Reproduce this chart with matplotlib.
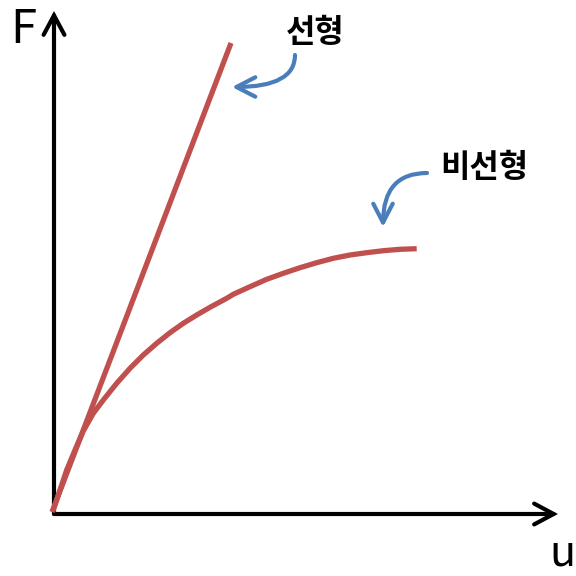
import matplotlib
matplotlib.use("Agg")
import matplotlib.pyplot as plt
from matplotlib.patches import FancyArrowPatch

plt.rcParams['font.family'] = ['Noto Sans CJK KR', 'DejaVu Sans']

# Data (u, F) (origin at the axes corner)
linear_u = [-2, 177]
linear_F = [2, 471]

nonlinear_u = [-1.3, 6, 12.7, 21, 29.3, 39.3, 49.3, 62.7, 76, 89.3, 102.7, 116,
               129.3, 142.7, 156, 172.7, 179.3, 196, 212.7, 229.3, 246, 262.7,
               279.3, 296, 312.7, 329.3, 346, 362.7]
nonlinear_F = [2.3, 24, 44, 64, 83, 100.7, 114, 130.7, 145.7, 159, 170.7, 181.3,
               190.7, 199, 206.7, 215.7, 219.7, 227.3, 234.7, 240.7, 246.3, 251.3,
               255.7, 259, 261.3, 263.3, 264.7, 265.3]

label_linear = "선형"
label_nonlinear = "비선형"
axis_x_label = "u"
axis_y_label = "F"

RED = "#C0504D"
BLUE = "#4A7EBB"

fig = plt.figure(figsize=(5.76, 5.76), dpi=100)
ax = fig.add_axes([0, 0, 1, 1])
ax.set_xlim(-54, 522)
ax.set_ylim(-62, 514)
ax.axis('off')

# axes with open arrowheads
for pA, pB in [((0, 0), (504, 0)), ((0, 0), (0, 503))]:
    ax.add_patch(FancyArrowPatch(pA, pB, arrowstyle="->,head_length=14,head_width=7.5",
                                 mutation_scale=1, lw=3, color="black",
                                 capstyle='round', joinstyle='miter', shrinkA=0, shrinkB=0))

ax.plot(linear_u, linear_F, color=RED, lw=3.8, solid_capstyle='butt')
ax.plot(nonlinear_u, nonlinear_F, color=RED, lw=3.8, solid_capstyle='butt',
        solid_joinstyle='round')

ax.text(-31, 471, axis_y_label, fontsize=34, ha='center', va='baseline', weight='light')
ax.text(508, -52, axis_x_label, fontsize=31, ha='center', va='baseline', weight='light')

ax.text(261, 481, label_linear, fontsize=23, ha='center', va='center', weight='bold')
ax.text(430, 346, label_nonlinear, fontsize=23, ha='center', va='center', weight='bold')

# blue pointer arrows
ax.add_patch(FancyArrowPatch((241, 459), (178, 427),
                             connectionstyle="angle3,angleA=-90,angleB=0",
                             arrowstyle="->,head_length=13.5,head_width=7",
                             mutation_scale=1, lw=3, color=BLUE,
                             capstyle='round', shrinkA=0, shrinkB=0))
ax.add_patch(FancyArrowPatch((373, 341), (329, 287),
                             connectionstyle="angle3,angleA=180,angleB=90",
                             arrowstyle="->,head_length=13.5,head_width=7",
                             mutation_scale=1, lw=3, color=BLUE,
                             capstyle='round', shrinkA=0, shrinkB=0))

fig.savefig("out.png", dpi=100)
